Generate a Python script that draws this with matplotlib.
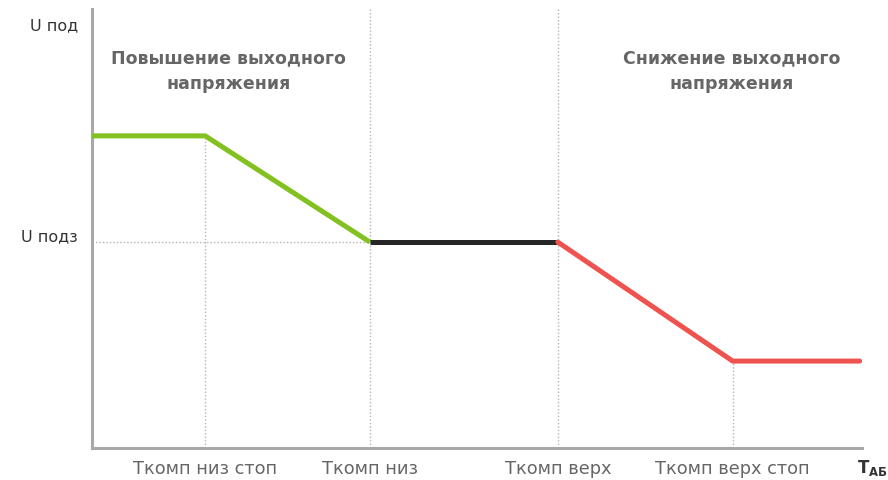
import matplotlib
matplotlib.use("Agg")
import matplotlib.pyplot as plt

# Data (arbitrary units)
green_x = [0.0, 14.7, 36.1]
green_y = [71.1, 71.1, 46.9]
black_x = [36.1, 60.5]
black_y = [46.9, 46.9]
red_x = [60.5, 83.2, 99.7]
red_y = [46.9, 19.8, 19.8]
tick_pos = [14.7, 36.1, 60.5, 83.2]
tick_labels = ["Ткомп низ стоп", "Ткомп низ", "Ткомп верх", "Ткомп верх стоп"]

plt.rcParams['font.family'] = ['DejaVu Sans']

fig = plt.figure(figsize=(8.88, 4.81), dpi=100)
ax = fig.add_axes([92/888, 32/481, (862-92)/888, (449-10)/481])
ax.set_xlim(0, 100)
ax.set_ylim(0, 100)

dot = dict(color="#b5b5b5", lw=1.0, linestyle=(0, (1, 1.5)), zorder=1)
ax.plot([14.7, 14.7], [0, 71.1], **dot)
ax.plot([36.1, 36.1], [0, 100], **dot)
ax.plot([60.5, 60.5], [0, 100], **dot)
ax.plot([83.2, 83.2], [0, 19.8], **dot)
ax.plot([0, 36.1], [46.9, 46.9], **dot)

ax.plot(green_x, green_y, color="#82c11f", lw=3.6, solid_capstyle="butt", solid_joinstyle="miter", zorder=3)
ax.plot(black_x, black_y, color="#262626", lw=3.6, solid_capstyle="butt", zorder=3)
ax.plot(red_x, red_y, color="#ef5350", lw=3.6, solid_capstyle="round", solid_joinstyle="miter", zorder=3)

for s in ["top", "right"]:
    ax.spines[s].set_visible(False)
for s in ["left", "bottom"]:
    ax.spines[s].set_color("#a8a8a8")
    ax.spines[s].set_linewidth(2.2)

ax.set_xticks(tick_pos)
ax.set_xticklabels(tick_labels, fontsize=12.8, color="#666666")
ax.tick_params(axis="x", length=0, pad=8)
ax.set_yticks([])

ax.text(-1.8, 96.5, "U под", ha="right", va="center", fontsize=11.5, color="#333333")
ax.text(-1.8, 48.4, "U подз", ha="right", va="center", fontsize=11.5, color="#333333")

ax.text(101.4, -4.4, r"$\mathbf{T}_{\mathbf{АБ}}$", ha="center", va="center", fontsize=12, color="#333333")

ax.text(17.7, 86.0, "Повышение выходного\nнапряжения", ha="center", va="center",
        fontsize=12.5, fontweight="bold", color="#666666", linespacing=1.55)
ax.text(83.1, 86.0, "Снижение выходного\nнапряжения", ha="center", va="center",
        fontsize=12.5, fontweight="bold", color="#666666", linespacing=1.55)

fig.savefig("out.png", dpi=100)
